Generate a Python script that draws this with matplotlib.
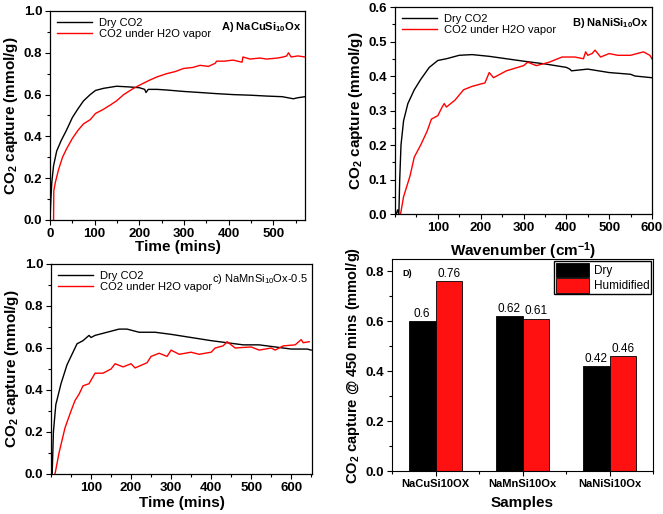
import numpy as np
import matplotlib.pyplot as plt
from matplotlib.ticker import MultipleLocator

plt.rcParams['font.family'] = ['Liberation Sans', 'DejaVu Sans']
plt.rcParams['mathtext.default'] = 'regular'

# Panel A: NaCuSi10Ox
a_dry_t = [0, 1, 2, 4, 8, 15, 25, 37, 50, 62, 75, 90, 102, 120, 149, 175, 200, 212, 215, 220, 240, 261, 300, 336, 370, 410, 450, 485, 520, 545, 555, 571]
a_dry_v = [0, 0.05, 0.1, 0.18, 0.26, 0.33, 0.38, 0.43, 0.49, 0.53, 0.57, 0.6, 0.62, 0.63, 0.64, 0.637, 0.633, 0.625, 0.61, 0.625, 0.625, 0.622, 0.615, 0.61, 0.605, 0.6, 0.597, 0.593, 0.59, 0.58, 0.585, 0.59]
a_wet_t = [8, 8.5, 12, 19, 28, 37, 50, 63, 75, 90, 102, 120, 135, 149, 165, 187, 205, 224, 240, 261, 280, 299, 320, 336, 355, 370, 373, 390, 410, 430, 432, 448, 470, 485, 510, 522, 530, 534, 540, 555, 571]
a_wet_v = [0, 0.14, 0.18, 0.24, 0.3, 0.34, 0.39, 0.43, 0.46, 0.48, 0.51, 0.53, 0.55, 0.57, 0.6, 0.63, 0.65, 0.67, 0.685, 0.7, 0.71, 0.725, 0.73, 0.74, 0.735, 0.75, 0.76, 0.76, 0.765, 0.755, 0.78, 0.77, 0.775, 0.77, 0.775, 0.78, 0.785, 0.8, 0.78, 0.785, 0.78]

# Panel B: NaNiSi10Ox
b_dry_t = [3, 6, 9, 11, 14, 20, 30, 45, 60, 80, 100, 120, 150, 180, 220, 260, 300, 350, 400, 408, 412, 450, 500, 550, 560, 600]
b_dry_v = [0, 0.012, 0, 0.1, 0.2, 0.27, 0.32, 0.36, 0.39, 0.425, 0.445, 0.45, 0.46, 0.462, 0.457, 0.45, 0.443, 0.435, 0.425, 0.42, 0.415, 0.42, 0.41, 0.405, 0.4, 0.395]
b_wet_t = [13, 20, 35, 45, 60, 75, 85, 100, 110, 115, 120, 140, 160, 180, 210, 220, 230, 260, 300, 310, 330, 360, 390, 420, 440, 445, 450, 460, 467, 480, 500, 520, 550, 580, 595, 600]
b_wet_v = [0, 0.05, 0.11, 0.165, 0.2, 0.24, 0.275, 0.285, 0.31, 0.32, 0.31, 0.33, 0.36, 0.37, 0.38, 0.41, 0.395, 0.415, 0.43, 0.44, 0.43, 0.44, 0.455, 0.455, 0.45, 0.47, 0.46, 0.465, 0.475, 0.455, 0.465, 0.46, 0.46, 0.47, 0.46, 0.45]

# Panel C: NaMnSi10Ox-0.5
c_dry_t = [3, 6, 12, 25, 40, 55, 65, 80, 95, 100, 110, 140, 170, 190, 220, 260, 300, 350, 400, 440, 480, 520, 560, 600, 640, 650]
c_dry_v = [0, 0.2, 0.33, 0.43, 0.52, 0.58, 0.62, 0.635, 0.66, 0.65, 0.66, 0.675, 0.69, 0.69, 0.675, 0.675, 0.665, 0.65, 0.635, 0.625, 0.615, 0.615, 0.605, 0.595, 0.595, 0.59]
c_wet_t = [10, 20, 35, 50, 60, 70, 80, 95, 110, 130, 150, 160, 180, 200, 210, 240, 250, 270, 290, 300, 320, 350, 370, 400, 410, 430, 440, 460, 500, 520, 550, 560, 580, 610, 625, 630, 645]
c_wet_v = [0, 0.1, 0.22, 0.3, 0.35, 0.38, 0.42, 0.43, 0.48, 0.48, 0.5, 0.525, 0.51, 0.525, 0.505, 0.53, 0.56, 0.575, 0.56, 0.59, 0.57, 0.58, 0.57, 0.58, 0.6, 0.61, 0.63, 0.6, 0.605, 0.59, 0.6, 0.59, 0.61, 0.615, 0.64, 0.625, 0.63]

# Panel D: capture at 450 mins
samples = ['NaCuSi10OX', 'NaMnSi10Ox', 'NaNiSi10Ox']
dry = [0.6, 0.62, 0.42]
humid = [0.76, 0.61, 0.46]

W, H = 663, 514
fig = plt.figure(figsize=(W / 100, H / 100), dpi=100)

TICK_FS = 9.5
LAB_FS = 11
LEG_FS = 8


def px_axes(left, top, right, bottom):
    return fig.add_axes([left / W, 1 - bottom / H, (right - left) / W, (bottom - top) / H])


def style(ax, xmaj, xmin, ymaj, ymin):
    ax.xaxis.set_major_locator(MultipleLocator(xmaj))
    ax.xaxis.set_minor_locator(MultipleLocator(xmin))
    ax.yaxis.set_major_locator(MultipleLocator(ymaj))
    ax.yaxis.set_minor_locator(MultipleLocator(ymin))
    ax.tick_params(which='both', direction='out', top=False, right=False)
    ax.tick_params(which='major', length=3.5, width=0.8, labelsize=TICK_FS, pad=2)
    ax.tick_params(which='minor', length=2, width=0.8)
    ax.yaxis.set_major_formatter(lambda v, p: f'{v:.1f}')
    for s in ax.spines.values():
        s.set_linewidth(0.9)


def bold_ticks(ax):
    for lab in ax.get_xticklabels() + ax.get_yticklabels():
        lab.set_fontweight('bold')


def curve_legend(ax):
    ax.legend(loc='upper left', frameon=False, fontsize=LEG_FS, handlelength=3.2,
              borderaxespad=0.2, labelspacing=0.15, handletextpad=0.6)


ylab = 'CO$_2$ capture (mmol/g)'

# A
axA = px_axes(50, 11, 305, 220)
axA.plot(a_dry_t, a_dry_v, color='black', lw=1, label='Dry CO2')
axA.plot(a_wet_t, a_wet_v, color='red', lw=1, label='CO2 under H2O vapor')
axA.set_xlim(0, 571)
axA.set_ylim(0, 1.0)
style(axA, 100, 50, 0.2, 0.1)
bold_ticks(axA)
axA.set_xlabel('Time (mins)', fontsize=LAB_FS, fontweight='bold', labelpad=0)
axA.set_ylabel(ylab, fontsize=LAB_FS, fontweight='bold', labelpad=3)
curve_legend(axA)
axA.text(0.985, 0.955, 'A) NaCuSi$_{10}$Ox', transform=axA.transAxes, ha='right', va='top', fontsize=8, fontweight='bold')

# B
axB = px_axes(395, 7, 652, 214)
axB.plot(b_dry_t, b_dry_v, color='black', lw=1, label='Dry CO2')
axB.plot(b_wet_t, b_wet_v, color='red', lw=1, label='CO2 under H2O vapor')
axB.set_xlim(0, 600)
axB.set_ylim(0, 0.6)
style(axB, 100, 50, 0.1, 0.05)
axB.set_xticks([100, 200, 300, 400, 500, 600])
bold_ticks(axB)
axB.set_xlabel('Wavenumber (cm$^{-1}$)', fontsize=LAB_FS, fontweight='bold', labelpad=5)
axB.set_ylabel(ylab, fontsize=LAB_FS, fontweight='bold', labelpad=3)
curve_legend(axB)
axB.text(0.985, 0.955, 'B) NaNiSi$_{10}$Ox', transform=axB.transAxes, ha='right', va='top', fontsize=8, fontweight='bold')

# C
axC = px_axes(51, 264, 312, 474)
axC.plot(c_dry_t, c_dry_v, color='black', lw=1, label='Dry CO2')
axC.plot(c_wet_t, c_wet_v, color='red', lw=1, label='CO2 under H2O vapor')
axC.set_xlim(0, 652)
axC.set_ylim(0, 1.0)
style(axC, 100, 50, 0.2, 0.1)
axC.set_xticks([100, 200, 300, 400, 500, 600])
bold_ticks(axC)
axC.set_xlabel('Time (mins)', fontsize=LAB_FS, fontweight='bold', labelpad=2)
axC.set_ylabel(ylab, fontsize=LAB_FS, fontweight='bold', labelpad=3)
curve_legend(axC)
axC.text(0.985, 0.96, 'c) NaMnSi$_{10}$Ox-0.5', transform=axC.transAxes, ha='right', va='top', fontsize=8)

# D
axD = px_axes(392, 259, 653, 471)
x = np.arange(len(samples))
w = 0.31
b1 = axD.bar(x - w / 2, dry, w, color='black', edgecolor='black', lw=0.6, label='Dry')
b2 = axD.bar(x + w / 2, humid, w, color='#ff1111', edgecolor='black', lw=0.6, label='Humidified')
axD.bar_label(b1, labels=[f'{v:g}' for v in dry], fontsize=8.5, padding=1)
axD.bar_label(b2, labels=[f'{v:g}' for v in humid], fontsize=8.5, padding=1)
axD.set_xlim(-0.5, 2.5)
axD.set_ylim(0, 0.848)
axD.yaxis.set_major_locator(MultipleLocator(0.2))
axD.yaxis.set_minor_locator(MultipleLocator(0.1))
axD.yaxis.set_major_formatter(lambda v, p: f'{v:.1f}')
axD.set_xticks(x)
axD.set_xticklabels(samples)
axD.set_xticks([-0.5, 0.5, 1.5, 2.5], minor=True)
axD.tick_params(which='both', direction='out', top=False, right=False)
axD.tick_params(which='major', length=3.5, width=0.8, pad=2)
axD.tick_params(axis='y', labelsize=TICK_FS)
axD.tick_params(axis='x', labelsize=8)
axD.tick_params(which='minor', length=2, width=0.8)
bold_ticks(axD)
axD.set_xlabel('Samples', fontsize=LAB_FS, fontweight='bold', labelpad=5)
axD.set_ylabel('CO$_2$ capture @ 450 mins (mmol/g)', fontsize=10.5, fontweight='bold', labelpad=3)
axD.legend(loc='upper right', fontsize=8.5, fancybox=False, edgecolor='black', framealpha=1,
           handlelength=2.8, handleheight=1.5, borderaxespad=0.15, labelspacing=0.1, borderpad=0.15,
           handletextpad=0.4)
axD.text(0.04, 0.955, 'D)', transform=axD.transAxes, ha='left', va='top', fontsize=6.5, fontweight='bold')

fig.savefig('out.png', dpi=100)
